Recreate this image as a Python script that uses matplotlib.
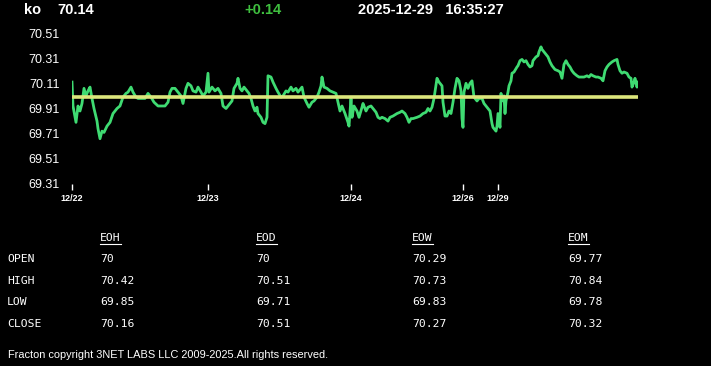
import matplotlib
matplotlib.use('Agg')
import matplotlib.pyplot as plt
from matplotlib.lines import Line2D

# bar index since session start (12/22) and last price
bars = [0, 1, 4, 6, 8, 10, 12, 14, 16, 18, 20, 22, 25, 26, 28, 30, 32, 35, 38, 41,
        45, 48, 51, 54, 56, 59, 61, 64, 66, 70, 73, 76, 79, 82, 86, 90, 93, 96, 98, 100,
        103, 106, 109, 111, 114, 116, 119, 121, 124, 126, 129, 131, 134, 136,
        137, 140, 143, 146, 149, 151, 154, 156, 160, 162, 165, 166, 168, 170, 172, 175,
        177, 179, 181, 183, 185, 186, 189, 191, 193, 195, 196, 199, 201, 204, 206, 209,
        211, 214, 216, 219, 221, 224, 226, 230, 232, 235, 237, 240, 242, 245, 247, 249,
        250, 252, 255, 258, 261, 264, 266, 268, 270, 273, 276,
        277, 279, 280, 282, 285, 287, 290, 291, 294, 296, 299, 301, 304, 306, 308, 310,
        313, 316, 318, 321, 325, 328, 330, 333, 335, 337, 339, 341, 345, 348, 351, 354,
        356, 358, 360, 362, 365, 367, 370, 371, 373, 375, 377, 379, 381, 383, 385, 387,
        389, 390, 391, 392, 394, 396, 398, 400, 402, 405, 407, 410, 412, 415, 418,
        420, 421, 424, 425, 426, 428, 429, 430, 432, 433, 434, 436, 437, 439, 440, 442,
        445, 446, 448, 450, 452, 454, 456, 458, 460, 461, 464, 466, 467, 469, 470, 472,
        474, 476, 478, 480, 483, 486, 488, 490, 492, 494, 496, 498, 500, 502, 505, 507,
        510, 512, 515, 517, 519, 521, 524, 526, 529, 531, 533, 535, 537, 540, 542, 545,
        546, 548, 550, 552, 555, 557, 559, 560, 562, 563, 565, 566]
prices = [70.12, 69.93, 69.80, 69.93, 69.89, 69.95, 70.07, 70.01, 70.05, 70.08, 69.99, 69.91,
          69.81, 69.75, 69.67, 69.73, 69.72, 69.77, 69.80, 69.87, 69.91, 69.93, 70.00, 70.03,
          70.04, 70.08, 70.04, 70.00, 69.99, 69.99, 69.99, 70.03, 70.00, 69.96, 69.93, 69.93,
          69.93, 69.96, 70.04, 70.07, 70.07, 70.04, 70.01, 69.95, 70.07, 70.11, 70.09, 70.05,
          70.04, 70.08, 70.04, 70.01, 70.04, 70.19,
          70.04, 70.08, 70.05, 70.07, 70.03, 69.93, 69.91, 69.93, 69.97, 70.07, 70.11, 70.15,
          70.07, 70.05, 70.08, 70.05, 70.03, 69.99, 69.93, 69.89, 69.92, 69.87, 69.84, 69.80,
          69.79, 69.84, 70.17, 70.16, 70.12, 70.07, 70.04, 70.00, 70.01, 70.05, 70.04, 70.08,
          70.05, 70.07, 70.04, 70.08, 70.00, 69.95, 69.92, 69.96, 69.97, 70.00, 70.04, 70.09,
          70.16, 70.08, 70.07, 70.05, 70.04, 70.03, 69.96, 69.89, 69.93, 69.87, 69.80,
          69.77, 69.99, 69.84, 69.93, 69.89, 69.84, 69.92, 69.95, 69.89, 69.92, 69.93, 69.91,
          69.88, 69.84, 69.83, 69.84, 69.83, 69.81, 69.84, 69.85, 69.87, 69.88, 69.89, 69.87,
          69.84, 69.80, 69.83, 69.83, 69.84, 69.85, 69.87, 69.88, 69.91, 69.89, 69.92, 69.99,
          70.15, 70.12, 70.09, 69.96, 69.85, 69.85, 69.89, 69.87, 69.96, 70.07, 70.15, 70.13,
          70.05, 69.83, 69.76, 70.04, 70.11, 70.07, 70.11, 70.13, 70.00, 69.97, 69.99, 69.99,
          69.95, 69.92, 69.89,
          69.79, 69.76, 69.73, 69.77, 69.87, 69.76, 70.03, 69.97, 70.01, 69.87, 69.97, 70.04,
          70.09, 70.13, 70.19, 70.20, 70.24, 70.25, 70.29, 70.30, 70.28, 70.29, 70.26, 70.24,
          70.25, 70.29, 70.32, 70.33, 70.36, 70.40, 70.38, 70.36, 70.34, 70.32, 70.28, 70.25,
          70.22, 70.21, 70.20, 70.15, 70.26, 70.29, 70.26, 70.24, 70.21, 70.19, 70.17, 70.16,
          70.16, 70.16, 70.17, 70.16, 70.18, 70.17, 70.16, 70.16, 70.15, 70.13, 70.21, 70.24,
          70.26, 70.28, 70.29, 70.30, 70.26, 70.21, 70.19, 70.20, 70.19, 70.16, 70.15, 70.08,
          70.12, 70.15, 70.08, 70.12]
ref_price = 70.0

day_ticks = [0, 136, 279, 391, 426]
day_labels = ['12/22', '12/23', '12/24', '12/26', '12/29']
y_ticks = [69.31, 69.51, 69.71, 69.91, 70.11, 70.31, 70.51]

symbol = 'ko'
last = '70.14'
change = '+0.14'
date_str = '2025-12-29'
time_str = '16:35:27'

periods = ['EOH', 'EOD', 'EOW', 'EOM']
row_names = ['OPEN', 'HIGH', 'LOW', 'CLOSE']
open_vals = ['70', '70', '70.29', '69.77']
high_vals = ['70.42', '70.51', '70.73', '70.84']
low_vals = ['69.85', '69.71', '69.83', '69.78']
close_vals = ['70.16', '70.51', '70.27', '70.32']

W, H = 711, 366
fig = plt.figure(figsize=(W / 100, H / 100), dpi=100, facecolor='black')

def fx(px):
    return px / W

def fy(py):
    return 1 - py / H

ax = fig.add_axes([fx(72), fy(184), fx(566), (184 - 33) / H])
ax.set_facecolor('black')
ax.plot(bars, prices, color='#3fdb72', lw=2, solid_joinstyle='round')
ax.axhline(ref_price, color='#dce67c', lw=2.6, xmin=0, xmax=1)
ax.set_xlim(0, 566)
ax.set_ylim(69.31, 70.51)
for s in ax.spines.values():
    s.set_visible(False)
ax.set_yticks(y_ticks)
ax.set_yticklabels(['%.2f' % v for v in y_ticks], fontsize=9, color='white',
                   family='Liberation Sans')
ax.tick_params(axis='y', length=0, pad=9)
ax.set_xticks(day_ticks)
ax.set_xticklabels(day_labels, fontsize=6.5, color='white', family='Liberation Sans',
                   fontweight='bold')
ax.tick_params(axis='x', length=4, width=1, color='white', pad=3)

# header
hdr = dict(color='white', fontsize=10.5, fontweight='bold', family='Liberation Sans',
           va='center', ha='left')
fig.text(fx(24), fy(10), symbol, **hdr)
fig.text(fx(57), fy(10), last, **hdr)
fig.text(fx(244), fy(10), change, **dict(hdr, color='#3fbf3f'))
fig.text(fx(358), fy(10), date_str + '   ' + time_str, **hdr)

# table
mono = dict(color='white', fontsize=8.2, family='DejaVu Sans Mono', va='center', ha='left')
col_x = [100, 256, 412, 568]
row_y = [259, 281, 302, 324]
heads = []
for x, p in zip(col_x, periods):
    heads.append(fig.text(fx(x), fy(238), p, **mono))
for y, name in zip(row_y, row_names):
    fig.text(fx(7), fy(y), name, **mono)
for y, vals in zip(row_y, [open_vals, high_vals, low_vals, close_vals]):
    for x, v in zip(col_x, vals):
        fig.text(fx(x), fy(y), v, **mono)

fig.text(fx(8), fy(355), 'Fracton copyright 3NET LABS LLC 2009-2025.All rights reserved.',
         color='white', fontsize=7.95, family='Liberation Sans', va='center', ha='left')

# underline the column heads
fig.canvas.draw()
r = fig.canvas.get_renderer()
for t in heads:
    bb = t.get_window_extent(r)
    yy = bb.y0 - 1
    fig.add_artist(Line2D([bb.x0 / W, bb.x1 / W], [yy / H, yy / H], color='white', lw=0.8))

fig.savefig('out.png', dpi=100, facecolor='black')
